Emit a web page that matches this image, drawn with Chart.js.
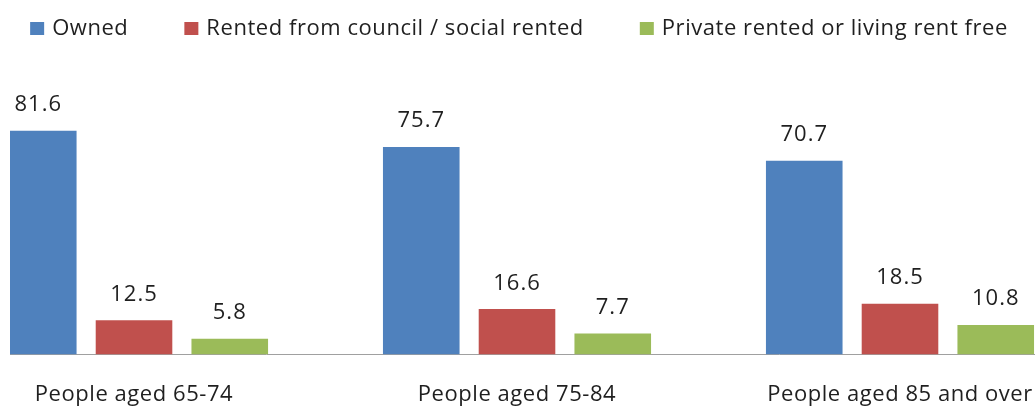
<!DOCTYPE html>
<html>
<head>
<meta charset="utf-8">
<script src="https://cdn.jsdelivr.net/npm/chart.js@4/dist/chart.umd.min.js"></script>
<style>
  html, body { margin: 0; padding: 0; background: #fff; overflow: hidden; }
  /* the original picture is a crop: the category labels run off the bottom edge */
  #wrap { position: relative; width: 1035px; height: 407px; overflow: hidden; }
  #box { position: absolute; left: 0; top: 0; width: 1035px; height: 408px; }
</style>
</head>
<body>
<div id="wrap"><div id="box"><canvas id="tenure-by-age"></canvas></div></div>
<script>
const categories = ['People aged 65-74', 'People aged 75-84', 'People aged 85 and over'];
const seriesNames = ['Owned', 'Rented from council / social rented', 'Private rented or living rent free'];
const owned = [81.6, 75.7, 70.7];
const councilRented = [12.5, 16.6, 18.5];
const privateRented = [5.8, 7.7, 10.8];

const TEXT = '#1f1f1f';
const FONT = '"Open Sans", "DejaVu Sans", sans-serif';

// bars sit on a linear x axis so the groups keep the cropped spacing of the original
function toPoints(values) {
  return values.map((v, i) => ({ x: i, y: v }));
}

// wider letter spacing, closer to the old excel text rendering
const spacing = {
  id: 'spacing',
  beforeDraw(chart) {
    chart.ctx.letterSpacing = '0.55px';
  }
};

// value printed over every bar
const valueLabels = {
  id: 'valueLabels',
  afterDatasetsDraw(chart) {
    const ctx = chart.ctx;
    ctx.save();
    ctx.font = '22px ' + FONT;
    ctx.letterSpacing = '1px';
    ctx.fillStyle = TEXT;
    ctx.textAlign = 'center';
    ctx.textBaseline = 'alphabetic';
    chart.data.datasets.forEach((ds, di) => {
      chart.getDatasetMeta(di).data.forEach((bar, i) => {
        ctx.fillText(ds.data[i].y.toFixed(1), bar.x, bar.y - 19.5);
      });
    });
    ctx.restore();
  }
};

// one-row legend with wide gaps, like the excel original
const rowLegend = {
  id: 'rowLegend',
  afterDraw(chart) {
    const ctx = chart.ctx;
    const box = 14, boxH = 13, gap = 8, between = 56;
    ctx.save();
    ctx.font = '22px ' + FONT;
    ctx.letterSpacing = '0.55px';
    ctx.textBaseline = 'alphabetic';
    const items = chart.data.datasets.map(ds => ({
      text: ds.label,
      color: ds.backgroundColor,
      w: box + gap + ctx.measureText(ds.label).width
    }));
    const total = items.reduce((s, it) => s + it.w, 0) + between * (items.length - 1);
    let x = 519 - total / 2;
    items.forEach(it => {
      ctx.fillStyle = it.color;
      ctx.fillRect(x, 22, box, boxH);
      ctx.fillStyle = TEXT;
      ctx.fillText(it.text, x + box + gap, 35);
      x += it.w + between;
    });
    ctx.restore();
  }
};

const ctx = document.getElementById('tenure-by-age');
const tenureChart = new Chart(ctx, {
  type: 'bar',
  data: {
    datasets: [
      { label: seriesNames[0], data: toPoints(owned), backgroundColor: '#4F81BD' },
      { label: seriesNames[1], data: toPoints(councilRented), backgroundColor: '#C0504D' },
      { label: seriesNames[2], data: toPoints(privateRented), backgroundColor: '#9BBB59' }
    ]
  },
  options: {
    responsive: true,
    maintainAspectRatio: false,
    animation: false,
    devicePixelRatio: 1,
    categoryPercentage: 0.75,
    barPercentage: 0.8,
    datasets: { bar: { clip: 0 } },
    layout: { padding: { top: 94, left: 10, right: 0, bottom: 0 } },
    plugins: {
      legend: { display: false },
      tooltip: { enabled: false }
    },
    scales: {
      x: {
        type: 'linear',
        offset: false,
        bounds: 'data',
        min: -0.3238,
        max: 2.3525,
        afterBuildTicks(axis) {
          axis.ticks = categories.map((c, i) => ({ value: i }));
        },
        // tick marks are hidden, their length just pushes the labels down
        grid: { display: false, drawTicks: true, tickLength: 27 },
        border: { display: true, color: '#a0a0a0', width: 1 },
        ticks: {
          padding: 0,
          color: TEXT,
          maxRotation: 0,
          autoSkip: false,
          font: { family: FONT, size: 22 },
          callback: (value) => categories[value]
        }
      },
      y: {
        display: false,
        min: 0,
        max: 95
      }
    }
  },
  plugins: [spacing, valueLabels, rowLegend]
});
</script>
</body>
</html>
